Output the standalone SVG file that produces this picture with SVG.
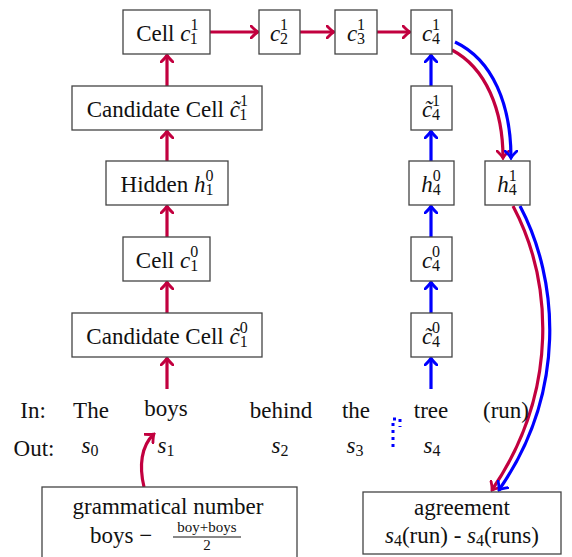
<svg xmlns="http://www.w3.org/2000/svg" width="572" height="557" viewBox="0 0 572 557">
<defs>
<style>
.box{fill:#fff;stroke:#444;stroke-width:1.3}
.t{font-family:"Liberation Serif","Times New Roman",serif;font-size:23px;fill:#111}
.m{font-style:italic}
.sc{font-size:16px}
.r{fill:none;stroke:#c2003f;stroke-width:3.2}
.b{fill:none;stroke:#0000ff;stroke-width:3.2}
</style>
<marker id="ar" viewBox="-8 -7 10 14" refX="0" refY="0" markerWidth="10" markerHeight="14" markerUnits="userSpaceOnUse" orient="auto">
<path d="M-7,-6 Q-2.5,-1.3 0,0 Q-2.5,1.3 -7,6" fill="none" stroke="#c2003f" stroke-width="2.8" stroke-linecap="round"/>
</marker>
<marker id="ab" viewBox="-8 -7 10 14" refX="0" refY="0" markerWidth="10" markerHeight="14" markerUnits="userSpaceOnUse" orient="auto">
<path d="M-7,-6 Q-2.5,-1.3 0,0 Q-2.5,1.3 -7,6" fill="none" stroke="#0000ff" stroke-width="2.8" stroke-linecap="round"/>
</marker>
</defs>
<rect width="572" height="557" fill="#fff"/>

<g id="connectors">
<path class="r" marker-end="url(#ar)" d="M210,32 H258"/>
<path class="r" marker-end="url(#ar)" d="M300,32 H334"/>
<path class="r" marker-end="url(#ar)" d="M377,32 H410"/>
<path class="r" marker-end="url(#ar)" d="M167,86 V55"/>
<path class="r" marker-end="url(#ar)" d="M167,161 V131"/>
<path class="r" marker-end="url(#ar)" d="M167,237 V206"/>
<path class="r" marker-end="url(#ar)" d="M167,313 V282"/>
<path class="r" marker-end="url(#ar)" d="M167,389 V358"/>
<path class="b" marker-end="url(#ab)" d="M431,86 V55"/>
<path class="b" marker-end="url(#ab)" d="M431,161 V131"/>
<path class="b" marker-end="url(#ab)" d="M431,237 V206"/>
<path class="b" marker-end="url(#ab)" d="M431,313 V282"/>
<path class="b" marker-end="url(#ab)" d="M431,389 V358"/>
<path class="r" marker-end="url(#ar)" d="M452,50 C486,68 503,110 503,158"/>
<path class="b" marker-end="url(#ab)" d="M455,42 C493,60 511,105 511,158"/>
<path class="r" marker-end="url(#ar)" d="M513,206 C552,280 560,390 492,490"/>
<path class="b" marker-end="url(#ab)" d="M520,206 C559,280 567,392 499,490"/>
<path class="r" marker-end="url(#ar)" d="M144,487 C139,466 141,446 154,434"/>
<path fill="none" stroke="#0000ff" stroke-width="3" stroke-dasharray="3,4" d="M393,447 V419 H400 V427"/>
</g>

<g id="cell_c11"><rect class="box" x="123" y="10" width="87" height="44"/>
<text class="t" x="167" y="41" text-anchor="middle">Cell <tspan class="m">c</tspan><tspan class="sc" dy="-11">1</tspan><tspan class="sc" dx="-8" dy="14">1</tspan></text></g>
<g id="c21"><rect class="box" x="259" y="10" width="41" height="44"/>
<text class="t" x="279" y="41" text-anchor="middle"><tspan class="m">c</tspan><tspan class="sc" dy="-11">1</tspan><tspan class="sc" dx="-8" dy="14">2</tspan></text></g>
<g id="c31"><rect class="box" x="335" y="10" width="42" height="44"/>
<text class="t" x="356" y="41" text-anchor="middle"><tspan class="m">c</tspan><tspan class="sc" dy="-11">1</tspan><tspan class="sc" dx="-8" dy="14">3</tspan></text></g>
<g id="c41"><rect class="box" x="411" y="10" width="41" height="44"/>
<text class="t" x="431" y="41" text-anchor="middle"><tspan class="m">c</tspan><tspan class="sc" dy="-11">1</tspan><tspan class="sc" dx="-8" dy="14">4</tspan></text></g>

<g id="cand_c11"><rect class="box" x="72" y="86" width="190" height="44"/>
<text class="t" x="167" y="117" text-anchor="middle">Candidate Cell <tspan class="m">c̃</tspan><tspan class="sc" dy="-11">1</tspan><tspan class="sc" dx="-8" dy="14">1</tspan></text></g>
<g id="ct41"><rect class="box" x="411" y="86" width="41" height="44"/>
<text class="t" x="431" y="117" text-anchor="middle"><tspan class="m">c̃</tspan><tspan class="sc" dy="-11">1</tspan><tspan class="sc" dx="-8" dy="14">4</tspan></text></g>

<g id="hidden_h10"><rect class="box" x="106" y="161" width="122" height="44"/>
<text class="t" x="167" y="192" text-anchor="middle">Hidden <tspan class="m">h</tspan><tspan class="sc" dy="-11">0</tspan><tspan class="sc" dx="-8" dy="14">1</tspan></text></g>
<g id="h40"><rect class="box" x="409" y="161" width="45" height="44"/>
<text class="t" x="431" y="192" text-anchor="middle"><tspan class="m">h</tspan><tspan class="sc" dy="-11">0</tspan><tspan class="sc" dx="-8" dy="14">4</tspan></text></g>
<g id="h41"><rect class="box" x="485" y="161" width="45" height="44"/>
<text class="t" x="507" y="192" text-anchor="middle"><tspan class="m">h</tspan><tspan class="sc" dy="-11">1</tspan><tspan class="sc" dx="-8" dy="14">4</tspan></text></g>

<g id="cell_c10"><rect class="box" x="123" y="237" width="87" height="44"/>
<text class="t" x="167" y="268" text-anchor="middle">Cell <tspan class="m">c</tspan><tspan class="sc" dy="-11">0</tspan><tspan class="sc" dx="-8" dy="14">1</tspan></text></g>
<g id="c40"><rect class="box" x="411" y="237" width="41" height="44"/>
<text class="t" x="431" y="268" text-anchor="middle"><tspan class="m">c</tspan><tspan class="sc" dy="-11">0</tspan><tspan class="sc" dx="-8" dy="14">4</tspan></text></g>

<g id="cand_c10"><rect class="box" x="72" y="313" width="190" height="44"/>
<text class="t" x="167" y="344" text-anchor="middle">Candidate Cell <tspan class="m">c̃</tspan><tspan class="sc" dy="-11">0</tspan><tspan class="sc" dx="-8" dy="14">1</tspan></text></g>
<g id="ct40"><rect class="box" x="411" y="313" width="41" height="44"/>
<text class="t" x="431" y="344" text-anchor="middle"><tspan class="m">c̃</tspan><tspan class="sc" dy="-11">0</tspan><tspan class="sc" dx="-8" dy="14">4</tspan></text></g>

<g id="input_row">
<text class="t" x="33" y="418" text-anchor="middle">In:</text>
<text class="t" x="91" y="418" text-anchor="middle">The</text>
<text class="t" x="166" y="416" text-anchor="middle">boys</text>
<text class="t" x="281" y="418" text-anchor="middle">behind</text>
<text class="t" x="356" y="418" text-anchor="middle">the</text>
<text class="t" x="431" y="418" text-anchor="middle">tree</text>
<text class="t" x="506" y="418" text-anchor="middle">(run)</text>
</g>
<g id="output_row">
<text class="t" x="34" y="456" text-anchor="middle">Out:</text>
<text class="t" x="90" y="453" text-anchor="middle"><tspan class="m">s</tspan><tspan class="sc" dy="3">0</tspan></text>
<text class="t" x="166" y="453" text-anchor="middle"><tspan class="m">s</tspan><tspan class="sc" dy="3">1</tspan></text>
<text class="t" x="280" y="453" text-anchor="middle"><tspan class="m">s</tspan><tspan class="sc" dy="3">2</tspan></text>
<text class="t" x="355" y="453" text-anchor="middle"><tspan class="m">s</tspan><tspan class="sc" dy="3">3</tspan></text>
<text class="t" x="432" y="453" text-anchor="middle"><tspan class="m">s</tspan><tspan class="sc" dy="3">4</tspan></text>
</g>

<g id="grammatical_number"><rect class="box" x="42" y="487" width="255" height="80"/>
<text class="t" x="168" y="514" text-anchor="middle">grammatical number</text>
<text class="t" x="90" y="543">boys −</text>
<text class="t" x="207" y="532" text-anchor="middle" style="font-size:15px">boy+boys</text>
<line x1="173" y1="537" x2="241" y2="537" stroke="#111" stroke-width="1"/>
<text class="t" x="207" y="550" text-anchor="middle" style="font-size:15px">2</text>
</g>
<g id="agreement"><rect class="box" x="363" y="492" width="198" height="62"/>
<text class="t" x="462" y="515" text-anchor="middle">agreement</text>
<text class="t" x="462" y="543" text-anchor="middle"><tspan class="m">s</tspan><tspan class="sc" dy="3">4</tspan><tspan dy="-3">(run) - </tspan><tspan class="m">s</tspan><tspan class="sc" dy="3">4</tspan><tspan dy="-3">(runs)</tspan></text>
</g>
</svg>
